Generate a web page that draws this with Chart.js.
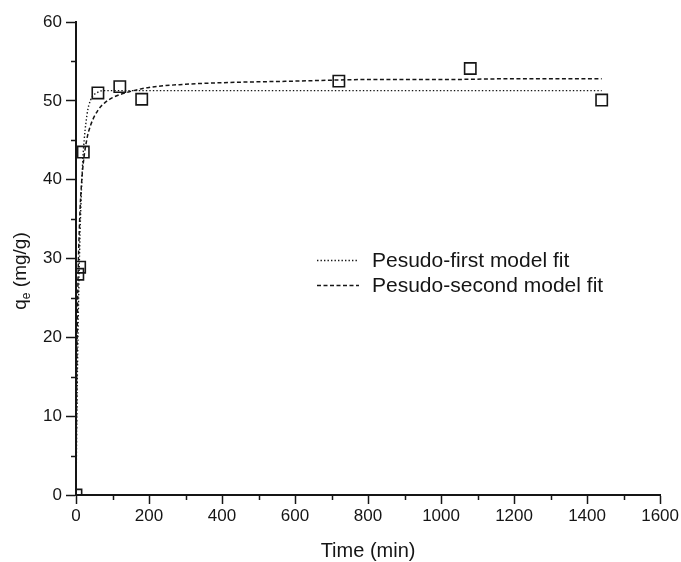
<!DOCTYPE html>
<html>
<head>
<meta charset="utf-8">
<script src="https://cdn.jsdelivr.net/npm/chart.js@4/dist/chart.umd.min.js"></script>
<style>
  html, body { margin: 0; padding: 0; background: #fff; }
  #wrap { width: 681px; height: 562px; position: relative; }
</style>
</head>
<body>
<div id="wrap"><canvas id="c" width="681" height="562"></canvas></div>
<script>
// Experimental data (time in min, qe in mg/g)
const timePoints = [0, 5, 10, 20, 60, 120, 180, 720, 1080, 1440];
const qeMeasured = [0, 28.0, 28.9, 43.5, 51.0, 51.8, 50.2, 52.5, 54.1, 50.1];

// Fitted curves
const fitTimes = [0, 2, 5, 10, 15, 20, 30, 40, 60, 80, 100, 150, 200, 300, 400, 600, 800, 1000, 1200, 1440];
const firstOrderFit = [0, 8.8, 19.2, 31.2, 38.8, 43.5, 48.2, 50.1, 51.1, 51.3, 51.3, 51.3, 51.3, 51.3, 51.3, 51.3, 51.3, 51.3, 51.3, 51.3];
const secondOrderFit = [0, 14.8, 26.1, 34.9, 39.4, 42.1, 45.2, 46.9, 48.8, 49.8, 50.4, 51.2, 51.7, 52.1, 52.3, 52.5, 52.7, 52.7, 52.8, 52.8];

const xTicks = [0, 200, 400, 600, 800, 1000, 1200, 1400, 1600];
const yTicks = [0, 10, 20, 30, 40, 50, 60];
const seriesNames = ['Pesudo-first model fit', 'Pesudo-second model fit'];

const INK = '#151515';
const FONT = '"Liberation Sans", Arial, sans-serif';
const DOT = [1.4, 2.1];
const DASH = [4, 2.5];

const toXY = (xs, ys) => xs.map((x, i) => ({ x: x, y: ys[i] }));

const extras = {
  id: 'extras',
  afterDraw(chart) {
    const ctx = chart.ctx;
    const xs = chart.scales.x, ys = chart.scales.y;
    const area = chart.chartArea;
    ctx.save();
    // minor ticks
    ctx.strokeStyle = INK;
    ctx.lineWidth = 1.5;
    ctx.beginPath();
    for (let i = 0; i < xTicks.length - 1; i++) {
      const v = (xTicks[i] + xTicks[i + 1]) / 2;
      const px = Math.round(xs.getPixelForValue(v)) + 0.5;
      ctx.moveTo(px, area.bottom);
      ctx.lineTo(px, area.bottom + 5);
    }
    for (let i = 0; i < yTicks.length - 1; i++) {
      const v = (yTicks[i] + yTicks[i + 1]) / 2;
      const py = Math.round(ys.getPixelForValue(v)) + 0.5;
      ctx.moveTo(area.left, py);
      ctx.lineTo(area.left - 5, py);
    }
    ctx.stroke();

    // x title
    ctx.fillStyle = INK;
    ctx.font = '20px ' + FONT;
    ctx.textAlign = 'center';
    ctx.textBaseline = 'alphabetic';
    ctx.fillText('Time (min)', (area.left + area.right) / 2, 557);

    // y title with subscript
    ctx.save();
    ctx.translate(26, 271);
    ctx.rotate(-Math.PI / 2);
    ctx.textAlign = 'left';
    const big = '19px ' + FONT, small = '12px ' + FONT;
    ctx.font = big; const wq = ctx.measureText('q').width;
    ctx.font = small; const we = ctx.measureText('e').width;
    ctx.font = big; const wr = ctx.measureText(' (mg/g)').width;
    let sx = -(wq + we + wr) / 2;
    ctx.font = big; ctx.fillText('q', sx, 0); sx += wq;
    ctx.font = small; ctx.fillText('e', sx, 4); sx += we;
    ctx.font = big; ctx.fillText(' (mg/g)', sx, 0);
    ctx.restore();

    // legend
    const rows = [{ y: 260, dash: DOT, w: 1.4 }, { y: 285, dash: DASH, w: 1.5 }];
    rows.forEach((r, i) => {
      ctx.strokeStyle = INK;
      ctx.lineWidth = r.w;
      ctx.setLineDash(r.dash);
      ctx.beginPath();
      ctx.moveTo(317, r.y + 0.5);
      ctx.lineTo(359, r.y + 0.5);
      ctx.stroke();
      ctx.setLineDash([]);
      ctx.fillStyle = INK;
      ctx.font = '21px ' + FONT;
      ctx.textAlign = 'left';
      ctx.textBaseline = 'alphabetic';
      ctx.fillText(seriesNames[i], 372, r.y + 7);
    });
    ctx.restore();
  }
};

new Chart(document.getElementById('c'), {
  type: 'scatter',
  data: {
    datasets: [
      {
        label: seriesNames[0],
        data: toXY(fitTimes, firstOrderFit),
        showLine: true,
        borderColor: INK,
        borderWidth: 1.4,
        borderDash: DOT,
        pointRadius: 0,
        cubicInterpolationMode: 'monotone',
        fill: false
      },
      {
        label: seriesNames[1],
        data: toXY(fitTimes, secondOrderFit),
        showLine: true,
        borderColor: INK,
        borderWidth: 1.5,
        borderDash: DASH,
        pointRadius: 0,
        cubicInterpolationMode: 'monotone',
        fill: false
      },
      {
        label: 'Experimental',
        data: toXY(timePoints, qeMeasured),
        showLine: false,
        pointStyle: 'rect',
        pointRadius: 8,
        pointBorderWidth: 1.6,
        pointBorderColor: INK,
        pointBackgroundColor: 'rgba(0,0,0,0)',
        clip: 0
      }
    ]
  },
  options: {
    responsive: false,
    animation: false,
    events: [],
    layout: { padding: { left: 0, right: 20, top: 22, bottom: 0 } },
    plugins: { legend: { display: false }, tooltip: { enabled: false } },
    scales: {
      x: {
        type: 'linear',
        min: 0, max: 1600,
        afterBuildTicks: (s) => { s.ticks = xTicks.map(v => ({ value: v })); },
        afterFit: (s) => { s.height = 67; },
        ticks: { color: INK, font: { family: FONT, size: 17 }, padding: 2, maxRotation: 0, callback: (v) => String(v) },
        grid: { display: true, drawOnChartArea: false, drawTicks: true, tickLength: 9, tickColor: INK, tickWidth: 1.5 },
        border: { display: true, color: INK, width: 2 }
      },
      y: {
        type: 'linear',
        min: 0, max: 60,
        afterBuildTicks: (s) => { s.ticks = yTicks.map(v => ({ value: v })); },
        afterFit: (s) => { s.width = 76; },
        ticks: { color: INK, font: { family: FONT, size: 17 }, padding: 4, callback: (v) => String(v) },
        grid: { display: true, drawOnChartArea: false, drawTicks: true, tickLength: 10, tickColor: INK, tickWidth: 1.5 },
        border: { display: true, color: INK, width: 2 }
      }
    }
  },
  plugins: [extras]
});
</script>
</body>
</html>
